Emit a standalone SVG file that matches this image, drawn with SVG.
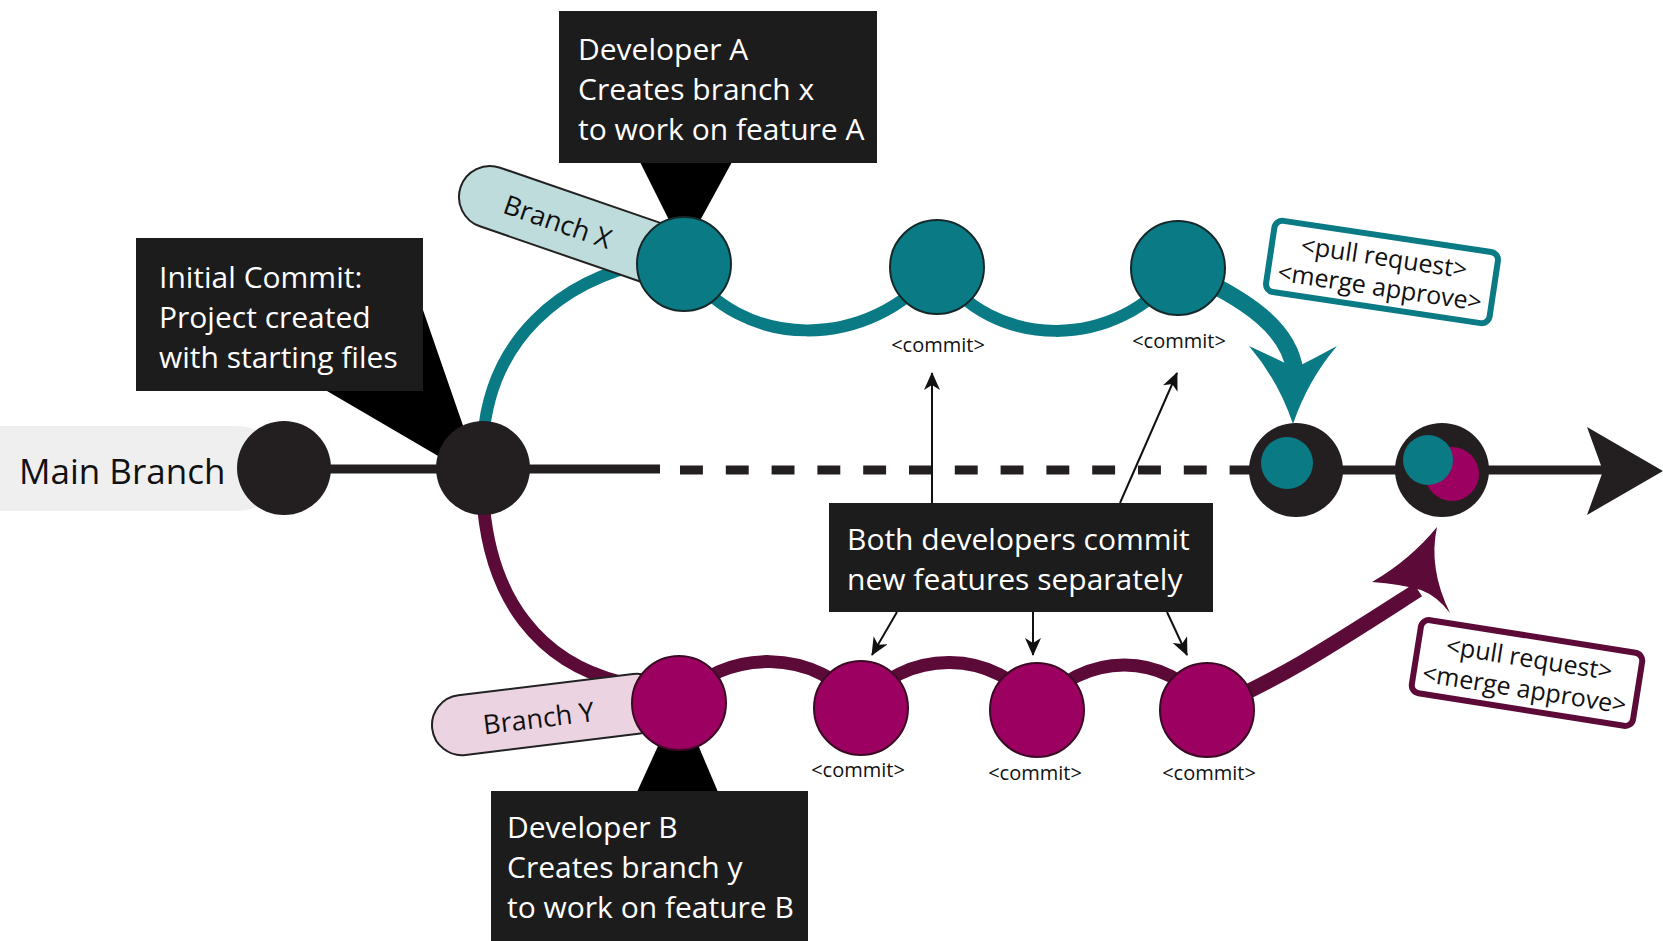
<svg xmlns="http://www.w3.org/2000/svg" width="1663" height="941" viewBox="0 0 1663 941">
<defs>
<style>
text{font-family:"Open Sans","Noto Sans","Liberation Sans",sans-serif;}
.call{fill:#1c1c1c;}
.ptr{fill:#000;}
.ct{fill:#fff;font-size:30px;}
.teal{fill:#0a7a84;stroke:#15292b;stroke-width:2;}
.mag{fill:#9c0060;stroke:#3a0a25;stroke-width:2;}
.main{fill:#231f20;}
.lbl{fill:#111;font-size:20px;text-anchor:middle;}
.pr{fill:#111;font-size:25px;text-anchor:middle;}
.thin{stroke:#111;stroke-width:2;fill:none;marker-end:url(#ah);}
</style>
<marker id="ah" markerUnits="userSpaceOnUse" markerWidth="18" markerHeight="16" viewBox="0 0 18 16" refX="17" refY="8" orient="auto">
<path d="M0,0 L18,8 L0,16 L5,8 Z" fill="#111"/>
</marker>
</defs>
<rect width="1663" height="941" fill="#fff"/>

<g id="main-branch-label">
<rect x="-40" y="426" width="320" height="85" rx="42" fill="#efefef"/>
<text x="19" y="484" font-size="35" fill="#111">Main Branch</text>
</g>

<g id="connectors">
<line x1="284" y1="469" x2="660" y2="469" stroke="#231f20" stroke-width="9"/>
<line x1="680" y1="470" x2="1296" y2="470" stroke="#231f20" stroke-width="9" stroke-dasharray="22.9 22.9"/>
<line x1="1296" y1="470" x2="1605" y2="470" stroke="#231f20" stroke-width="9"/>
<path d="M1587,427 L1663,471 L1587,515 L1603,471 Z" fill="#231f20"/>
<path d="M483,440 C490,340 560,280 650,262" stroke="#0a7a84" stroke-width="12" fill="none"/>
<path d="M684,264 C740,352 870,352 937,267" stroke="#0a7a84" stroke-width="12" fill="none"/>
<path d="M937,267 C990,352 1120,352 1178,268" stroke="#0a7a84" stroke-width="12" fill="none"/>
<path d="M1178,268 C1250,300 1290,330 1295,372" stroke="#0a7a84" stroke-width="17" fill="none"/>
<path d="M1293,424 Q1278,380 1249,346 Q1275,358 1295,368 Q1315,358 1337,346 Q1308,380 1293,424 Z" fill="#0a7a84"/>
<path d="M483,500 C490,600 540,662 620,682" stroke="#5c0a38" stroke-width="13" fill="none"/>
<path d="M679,703 C720,647 820,647 861,708" stroke="#5c0a38" stroke-width="13" fill="none"/>
<path d="M861,708 C900,647 1000,647 1037,710" stroke="#5c0a38" stroke-width="13" fill="none"/>
<path d="M1037,710 C1080,650 1170,650 1207,710" stroke="#5c0a38" stroke-width="13" fill="none"/>
<path d="M1207,710 C1280,680 1340,640 1418,590" stroke="#5c0a38" stroke-width="15" fill="none"/>
<path d="M1437,527 Q1428,568 1450,613 Q1437,596 1421,590 Q1400,584 1372,582 Q1410,560 1437,527 Z" fill="#5c0a38"/>
<line class="thin" x1="932" y1="503" x2="932" y2="373"/>
<line class="thin" x1="1120" y1="503" x2="1177" y2="373"/>
<line class="thin" x1="897" y1="612" x2="872" y2="655"/>
<line class="thin" x1="1033" y1="612" x2="1033" y2="655"/>
<line class="thin" x1="1167" y1="612" x2="1187" y2="655"/>
</g>

<g id="branch-x-label" transform="translate(490,197) rotate(19)">
<rect x="-31" y="-31" width="236" height="62" rx="31" fill="#bfdcdd" stroke="#222" stroke-width="2"/>
<text x="16" y="11" font-size="27" fill="#111">Branch X</text>
</g>
<g id="branch-y-label" transform="translate(463,725) rotate(-7)">
<rect x="-31" y="-30" width="236" height="60" rx="30" fill="#ebd3e2" stroke="#222" stroke-width="2"/>
<text x="20" y="12" font-size="27" fill="#111">Branch Y</text>
</g>

<g id="callout-initial">
<path class="ptr" d="M327,391 L423,391 L423,310 L468,440 L445,460 Z"/>
<rect class="call" x="136" y="238" width="287" height="153"/>
<text class="ct" x="159" y="288">Initial Commit:</text>
<text class="ct" x="159" y="328">Project created</text>
<text class="ct" x="159" y="368">with starting files</text>
</g>
<g id="callout-dev-a">
<path class="ptr" d="M640,162 L732,162 L684,250 Z"/>
<rect class="call" x="559" y="11" width="318" height="152"/>
<text class="ct" x="578" y="60">Developer A</text>
<text class="ct" x="578" y="100">Creates branch x</text>
<text class="ct" x="578" y="140">to work on feature A</text>
</g>
<g id="callout-dev-b">
<path class="ptr" d="M637,792 L718,792 L679,700 Z"/>
<rect class="call" x="491" y="791" width="317" height="150"/>
<text class="ct" x="507" y="838">Developer B</text>
<text class="ct" x="507" y="878">Creates branch y</text>
<text class="ct" x="507" y="918">to work on feature B</text>
</g>
<g id="callout-both">
<rect class="call" x="829" y="503" width="384" height="109"/>
<text class="ct" x="847" y="550">Both developers commit</text>
<text class="ct" x="847" y="590">new features separately</text>
</g>

<g id="main-c1"><circle class="main" cx="284" cy="468" r="47"/></g>
<g id="main-c2"><circle class="main" cx="483" cy="468" r="47"/></g>
<g id="merge-1">
<circle class="main" cx="1296" cy="470" r="47"/>
<circle cx="1287" cy="463" r="26" fill="#0a7a84"/>
</g>
<g id="merge-2">
<circle class="main" cx="1442" cy="470" r="47"/>
<circle cx="1452" cy="474" r="27" fill="#9c0060"/>
<circle cx="1428" cy="460" r="25" fill="#0a7a84"/>
</g>

<g id="x1"><circle class="teal" cx="684" cy="264" r="47"/></g>
<g id="x2"><circle class="teal" cx="937" cy="267" r="47"/><text class="lbl" x="938" y="352">&lt;commit&gt;</text></g>
<g id="x3"><circle class="teal" cx="1178" cy="268" r="47"/><text class="lbl" x="1179" y="348">&lt;commit&gt;</text></g>

<g id="y1"><circle class="mag" cx="679" cy="703" r="47"/></g>
<g id="y2"><circle class="mag" cx="861" cy="708" r="47"/><text class="lbl" x="858" y="777">&lt;commit&gt;</text></g>
<g id="y3"><circle class="mag" cx="1037" cy="710" r="47"/><text class="lbl" x="1035" y="780">&lt;commit&gt;</text></g>
<g id="y4"><circle class="mag" cx="1207" cy="710" r="47"/><text class="lbl" x="1209" y="780">&lt;commit&gt;</text></g>

<g id="pr-teal" transform="translate(1382,272) rotate(8.5)">
<rect x="-113" y="-36" width="226" height="72" rx="8" fill="#fff" stroke="#0a7a84" stroke-width="6"/>
<text class="pr" x="0" y="-6">&lt;pull request&gt;</text>
<text class="pr" x="0" y="24">&lt;merge approve&gt;</text>
</g>
<g id="pr-maroon" transform="translate(1527,673) rotate(9)">
<rect x="-112" y="-37" width="224" height="74" rx="8" fill="#fff" stroke="#5c0a38" stroke-width="6"/>
<text class="pr" x="0" y="-6">&lt;pull request&gt;</text>
<text class="pr" x="0" y="25">&lt;merge approve&gt;</text>
</g>
</svg>
